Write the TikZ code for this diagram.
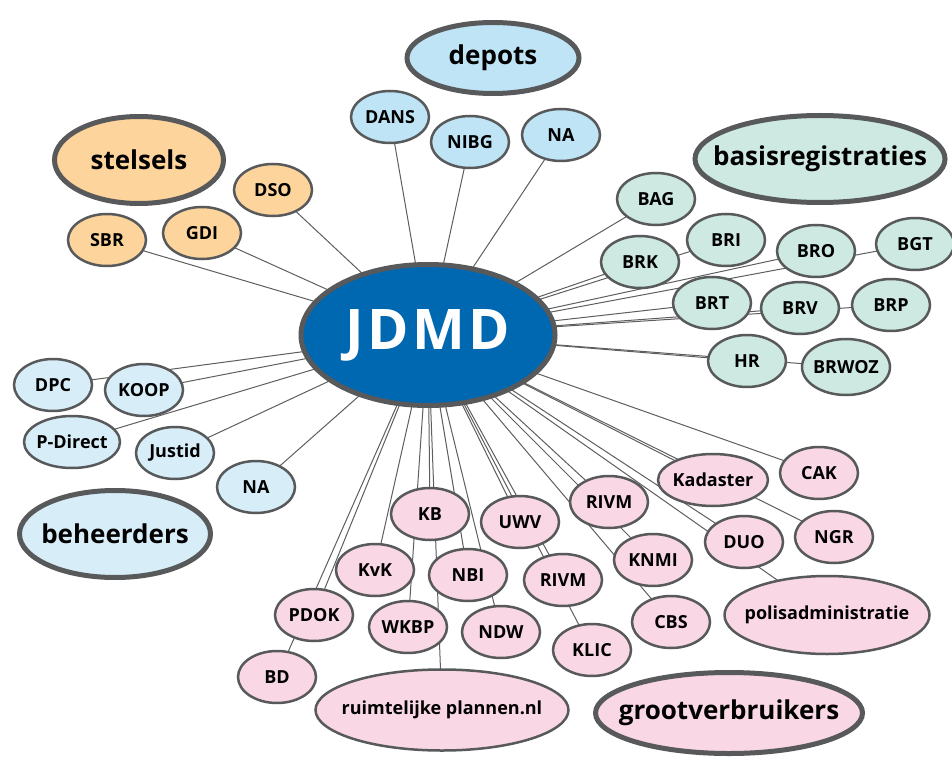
\documentclass[tikz,border=0pt]{standalone}
\usepackage{fontspec}
\setmainfont{Open Sans}
\usetikzlibrary{shapes.geometric,backgrounds}

\definecolor{hubblue}{HTML}{0067B1}
\definecolor{rimgray}{HTML}{58595B}
\definecolor{linkgray}{HTML}{5E5E5E}
\definecolor{stelselfill}{HTML}{FDD49C}
\definecolor{depotfill}{HTML}{BEE4F6}
\definecolor{basisfill}{HTML}{CEE9E2}
\definecolor{beheerfill}{HTML}{D7EEF9}
\definecolor{grootfill}{HTML}{F9D7E5}

\tikzset{
  bubble/.style={ellipse, draw=rimgray, line width=2.5pt, inner xsep=-30pt, inner ysep=-10pt,
    minimum width=78pt, minimum height=52pt, font=\fontsize{18}{22}\selectfont\bfseries},
  group/.style={ellipse, draw=rimgray, line width=5pt, inner xsep=-60pt, inner ysep=-10pt,
    font=\fontsize{26}{32}\selectfont\bfseries},
  hub/.style={ellipse, draw=rimgray, fill=hubblue, text=white, line width=5pt, inner sep=0pt,
    minimum width=254pt, minimum height=141pt,
    font=\fontsize{56}{66}\selectfont\bfseries\addfontfeatures{LetterSpace=6}},
  link/.style={draw=linkgray, line width=1pt}
}

\begin{document}
\begin{tikzpicture}[x=1pt,y=1pt]
\useasboundingbox (0,0) rectangle (952,-759);

  \node[hub] (jdmd) at (428,-335) {JDMD};

  \node[group, fill=depotfill,   minimum width=172pt, minimum height=71pt] (depots)  at (493,-58)  {depots};
  \node[group, fill=stelselfill, minimum width=169pt, minimum height=87pt] (stelsels) at (139,-160) {stelsels};
  \node[group, fill=basisfill,   minimum width=250pt, minimum height=87pt] (basisreg) at (820,-159) {basisregistraties};
  \node[group, fill=beheerfill,  minimum width=191pt, minimum height=87pt] (beheerders) at (115,-534) {beheerders};
  \node[group, fill=grootfill,   minimum width=267pt, minimum height=81pt] (grootverbr) at (729,-713) {grootverbruikers};

  \node[bubble, fill=depotfill] (dans) at (390,-117) {DANS};
  \node[bubble, fill=depotfill] (nibg) at (470,-142) {NIBG};
  \node[bubble, fill=depotfill] (nadep) at (561,-135) {NA};

  \node[bubble, fill=stelselfill] (sbr) at (107,-240) {SBR};
  \node[bubble, fill=stelselfill] (gdi) at (202,-233) {GDI};
  \node[bubble, fill=stelselfill] (dso) at (273,-190) {DSO};

  \node[bubble, fill=basisfill] (bag) at (656,-199) {BAG};
  \node[bubble, fill=basisfill] (bri) at (726,-240) {BRI};
  \node[bubble, fill=basisfill] (brk) at (640,-262) {BRK};
  \node[bubble, fill=basisfill] (bro) at (816,-251) {BRO};
  \node[bubble, fill=basisfill] (bgt) at (915,-244) {BGT};
  \node[bubble, fill=basisfill] (brt) at (712,-303) {BRT};
  \node[bubble, fill=basisfill] (brv) at (800,-308) {BRV};
  \node[bubble, fill=basisfill] (brp) at (891,-305) {BRP};
  \node[bubble, fill=basisfill] (hr) at (747,-361) {HR};
  \node[bubble, fill=basisfill, minimum width=88pt, minimum height=56pt] (brwoz) at (846,-367) {BRWOZ};

  \node[bubble, fill=beheerfill] (dpc) at (53,-385) {DPC};
  \node[bubble, fill=beheerfill] (koop) at (144,-390) {KOOP};
  \node[bubble, fill=beheerfill, minimum width=96pt] (pdirect) at (72,-442) {P-Direct};
  \node[bubble, fill=beheerfill] (justid) at (175,-453) {Justid};
  \node[bubble, fill=beheerfill] (nabeh) at (256,-487) {NA};

  \node[bubble, fill=grootfill] (kb) at (430,-514) {KB};
  \node[bubble, fill=grootfill] (uwv) at (520,-522) {UWV};
  \node[bubble, fill=grootfill] (rivma) at (609,-502) {RIVM};
  \node[bubble, fill=grootfill, minimum width=110pt] (kadaster) at (713,-480) {Kadaster};
  \node[bubble, fill=grootfill] (cak) at (819,-473) {CAK};
  \node[bubble, fill=grootfill] (kvk) at (375,-570) {KvK};
  \node[bubble, fill=grootfill] (nbi) at (468,-575) {NBI};
  \node[bubble, fill=grootfill] (rivmb) at (563,-580) {RIVM};
  \node[bubble, fill=grootfill] (knmi) at (653,-560) {KNMI};
  \node[bubble, fill=grootfill] (duo) at (744,-542) {DUO};
  \node[bubble, fill=grootfill] (ngr) at (834,-537) {NGR};
  \node[bubble, fill=grootfill] (pdok) at (314,-615) {PDOK};
  \node[bubble, fill=grootfill] (wkbp) at (408,-627) {WKBP};
  \node[bubble, fill=grootfill] (ndw) at (501,-632) {NDW};
  \node[bubble, fill=grootfill] (klic) at (592,-650) {KLIC};
  \node[bubble, fill=grootfill] (cbs) at (671,-622) {CBS};
  \node[bubble, fill=grootfill, minimum width=205pt, minimum height=78pt] (polis) at (827,-615) {polisadministratie};
  \node[bubble, fill=grootfill] (bd) at (277,-677) {BD};
  \node[bubble, fill=grootfill, minimum width=253pt, minimum height=81pt] (ruimtelijk) at (442,-710) {ruimtelijke plannen.nl};

  \begin{pgfonlayer}{background}
  \draw[link] (jdmd.center) -- (dans.center);
  \draw[link] (jdmd.center) -- (nibg.center);
  \draw[link] (jdmd.center) -- (nadep.center);
  \draw[link] (jdmd.center) -- (sbr.center);
  \draw[link] (jdmd.center) -- (gdi.center);
  \draw[link] (jdmd.center) -- (dso.center);
  \draw[link] (jdmd.center) -- (bag.center);
  \draw[link] (jdmd.center) -- (bri.center);
  \draw[link] (jdmd.center) -- (brk.center);
  \draw[link] (jdmd.center) -- (bro.center);
  \draw[link] (jdmd.center) -- (bgt.center);
  \draw[link] (jdmd.center) -- (brt.center);
  \draw[link] (jdmd.center) -- (brv.center);
  \draw[link] (jdmd.center) -- (brp.center);
  \draw[link] (jdmd.center) -- (hr.center);
  \draw[link] (jdmd.center) -- (brwoz.center);
  \draw[link] (jdmd.center) -- (dpc.center);
  \draw[link] (jdmd.center) -- (koop.center);
  \draw[link] (jdmd.center) -- (pdirect.center);
  \draw[link] (jdmd.center) -- (justid.center);
  \draw[link] (jdmd.center) -- (nabeh.center);
  \draw[link] (jdmd.center) -- (kb.center);
  \draw[link] (jdmd.center) -- (uwv.center);
  \draw[link] (jdmd.center) -- (rivma.center);
  \draw[link] (jdmd.center) -- (kadaster.center);
  \draw[link] (jdmd.center) -- (cak.center);
  \draw[link] (jdmd.center) -- (kvk.center);
  \draw[link] (jdmd.center) -- (nbi.center);
  \draw[link] (jdmd.center) -- (rivmb.center);
  \draw[link] (jdmd.center) -- (knmi.center);
  \draw[link] (jdmd.center) -- (duo.center);
  \draw[link] (jdmd.center) -- (ngr.center);
  \draw[link] (jdmd.center) -- (pdok.center);
  \draw[link] (jdmd.center) -- (wkbp.center);
  \draw[link] (jdmd.center) -- (ndw.center);
  \draw[link] (jdmd.center) -- (klic.center);
  \draw[link] (jdmd.center) -- (cbs.center);
  \draw[link] (jdmd.center) -- (polis.center);
  \draw[link] (jdmd.center) -- (bd.center);
  \draw[link] (jdmd.center) -- (ruimtelijk.center);
  \end{pgfonlayer}

\end{tikzpicture}
\end{document}
